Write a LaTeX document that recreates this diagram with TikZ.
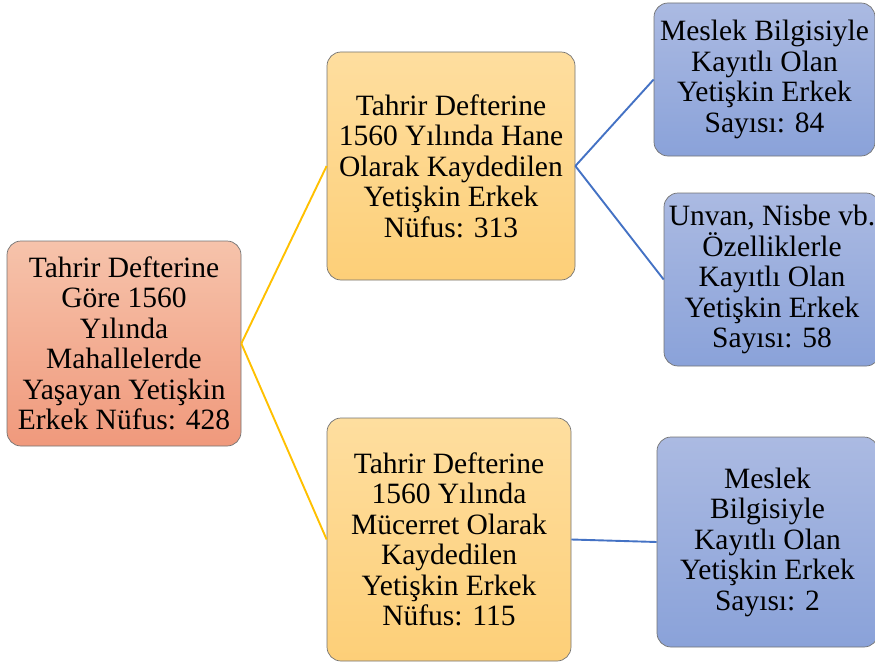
\documentclass[tikz,border=0pt]{standalone}
\usepackage{fontspec}
\setmainfont{Liberation Serif}
\usepackage{xcolor}
\usetikzlibrary{positioning}

\definecolor{salmontop}{HTML}{F6C3AB}
\definecolor{salmonbot}{HTML}{F0997C}
\definecolor{goldtop}{HTML}{FEDE9F}
\definecolor{goldbot}{HTML}{FDCF78}
\definecolor{bluetop}{HTML}{ABBAE2}
\definecolor{bluebot}{HTML}{8AA2D9}
\definecolor{linegold}{HTML}{FFC000}
\definecolor{lineblue}{HTML}{4472C4}

\begin{document}
\begin{tikzpicture}[x=1pt, y=-1pt,
    box/.style={draw=black!55, line width=0.7pt, rounded corners=14pt, align=center,
        inner sep=0pt, font=\fontsize{29.5}{30.5}\selectfont},
    rootbox/.style={box, top color=salmontop, bottom color=salmonbot},
    midbox/.style={box, top color=goldtop, bottom color=goldbot},
    leafbox/.style={box, top color=bluetop, bottom color=bluebot},
    goldlink/.style={draw=linegold, line width=1.9pt},
    bluelink/.style={draw=lineblue, line width=1.9pt}]

    \useasboundingbox (0,0) rectangle (875,666);
    \clip (0,0) rectangle (875,666);

    \node[rootbox, minimum width=234pt, minimum height=205pt] (root) at (124,343.5)
        {Tahrir Defterine\\Göre 1560\\Yılında\\Mahallelerde\\Yaşayan Yetişkin\\Erkek Nüfus: 428};

    \node[midbox, minimum width=248pt, minimum height=228pt] (hane) at (451,166)
        {Tahrir Defterine\\1560 Yılında Hane\\Olarak Kaydedilen\\Yetişkin Erkek\\Nüfus: 313};
    \node[midbox, minimum width=244pt, minimum height=243pt] (mucerret) at (449,539.5)
        {Tahrir Defterine\\1560 Yılında\\Mücerret Olarak\\Kaydedilen\\Yetişkin Erkek\\Nüfus: 115};

    \node[leafbox, minimum width=221pt, minimum height=153pt] (meslek) at (764.5,79.5)
        {Meslek Bilgisiyle\\Kayıtlı Olan\\Yetişkin Erkek\\Sayısı: 84};
    \node[leafbox, minimum width=216pt, minimum height=173pt] (unvan) at (772,279.5)
        {Unvan, Nisbe vb.\\Özelliklerle\\Kayıtlı Olan\\Yetişkin Erkek\\Sayısı: 58};
    \node[leafbox, minimum width=221pt, minimum height=210pt] (meslekb) at (767.5,542)
        {Meslek\\Bilgisiyle\\Kayıtlı Olan\\Yetişkin Erkek\\Sayısı: 2};

    \draw[goldlink] (root.east) -- (hane.west);
    \draw[goldlink] (root.east) -- (mucerret.west);
    \draw[bluelink] (hane.east) -- (meslek.west);
    \draw[bluelink] (hane.east) -- (unvan.west);
    \draw[bluelink] (mucerret.east) -- (meslekb.west);
\end{tikzpicture}
\end{document}
